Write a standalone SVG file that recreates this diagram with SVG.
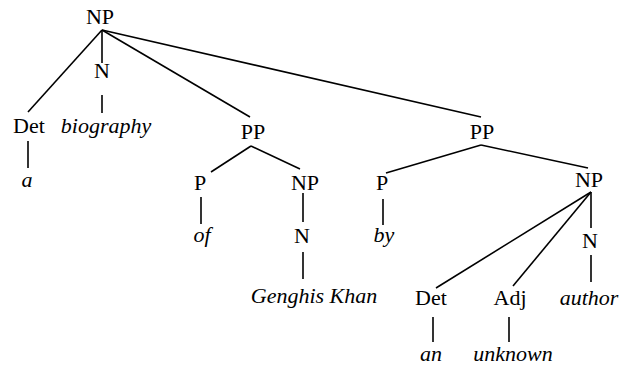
<svg xmlns="http://www.w3.org/2000/svg" width="622" height="366" viewBox="0 0 622 366">
<style>
text{font-family:"Liberation Serif","Times New Roman",serif;font-size:22px;fill:#000;text-anchor:middle}
.w{font-style:italic}
line{stroke:#000;stroke-width:1.6;stroke-linecap:butt}
</style>
<rect width="622" height="366" fill="#fff"/>
<g id="connectors">
<line x1="102" y1="30" x2="28" y2="112"/>
<line x1="102" y1="30" x2="102" y2="63"/>
<line x1="102" y1="95" x2="102" y2="113"/>
<line x1="102" y1="30" x2="250" y2="117"/>
<line x1="102" y1="30" x2="481" y2="117"/>
<line x1="28" y1="141" x2="28" y2="168"/>
<line x1="251" y1="146" x2="211" y2="172"/>
<line x1="251" y1="146" x2="300" y2="169"/>
<line x1="201" y1="197" x2="201" y2="224"/>
<line x1="303" y1="193" x2="303" y2="222"/>
<line x1="303" y1="252" x2="303" y2="279"/>
<line x1="481" y1="145" x2="386" y2="173"/>
<line x1="481" y1="145" x2="588" y2="168"/>
<line x1="383" y1="199" x2="383" y2="225"/>
<line x1="591" y1="192" x2="436" y2="288"/>
<line x1="591" y1="192" x2="513" y2="286"/>
<line x1="591" y1="192" x2="591" y2="228"/>
<line x1="591" y1="255" x2="591" y2="282"/>
<line x1="433" y1="317" x2="433" y2="342"/>
<line x1="509" y1="317" x2="509" y2="342"/>
</g>
<g id="np-root"><text x="100" y="24">NP</text></g>
<g id="n-1"><text x="102" y="78">N</text></g>
<g id="det-1"><text x="29" y="133">Det</text></g>
<g id="w-biography"><text class="w" x="106" y="133">biography</text></g>
<g id="w-a"><text class="w" x="27" y="187">a</text></g>
<g id="pp-1"><text x="253" y="139">PP</text></g>
<g id="p-1"><text x="200" y="190">P</text></g>
<g id="w-of"><text class="w" x="202" y="242">of</text></g>
<g id="np-2"><text x="305" y="190">NP</text></g>
<g id="n-2"><text x="302" y="243">N</text></g>
<g id="w-genghis"><text class="w" x="314" y="303">Genghis Khan</text></g>
<g id="pp-2"><text x="482" y="139">PP</text></g>
<g id="p-2"><text x="382" y="190">P</text></g>
<g id="w-by"><text class="w" x="384" y="242">by</text></g>
<g id="np-3"><text x="589" y="187">NP</text></g>
<g id="n-3"><text x="590" y="248">N</text></g>
<g id="det-2"><text x="431" y="305">Det</text></g>
<g id="adj"><text x="510" y="305">Adj</text></g>
<g id="w-author"><text class="w" x="589" y="305">author</text></g>
<g id="w-an"><text class="w" x="431" y="361">an</text></g>
<g id="w-unknown"><text class="w" x="513" y="361">unknown</text></g>
</svg>
